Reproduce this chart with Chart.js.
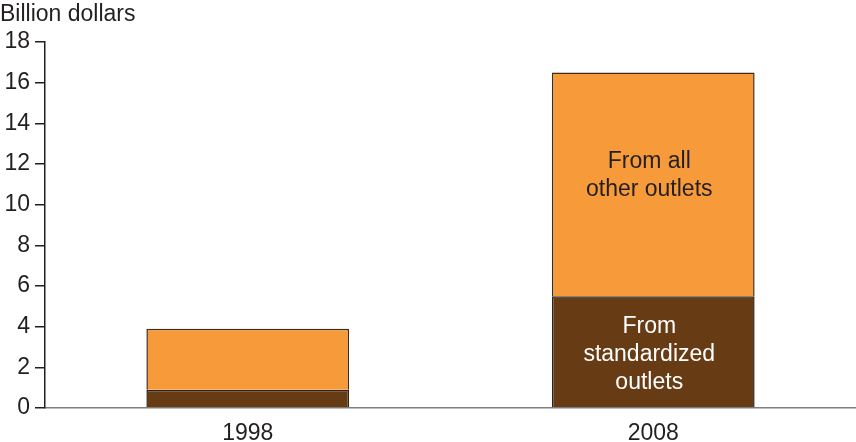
<!DOCTYPE html>
<html>
<head>
<meta charset="utf-8">
<script src="https://cdn.jsdelivr.net/npm/chart.js@4"></script>
<style>
  html, body { margin: 0; padding: 0; background: #fff; }
  #wrap { width: 856px; height: 442px; }
</style>
</head>
<body>
<div id="wrap"><canvas id="chart" width="856" height="442"></canvas></div>
<script>
// Values (billion dollars)
const years = ["1998", "2008"];
const standardized = [0.9, 5.5];
const otherOutlets = [3.0, 11.0];
const yTicks = [0, 2, 4, 6, 8, 10, 12, 14, 16, 18];

const FONT = "'Liberation Sans', Arial, Helvetica, sans-serif";
const INK = "#231f20";
const SIZE = 23;

// text inside the 2008 bar + axis title
const labelsPlugin = {
  id: "barLabels",
  afterDatasetsDraw(chart) {
    const { ctx, scales } = chart;
    const x = scales.x.getPixelForValue(1);
    ctx.save();
    ctx.font = SIZE + "px " + FONT;
    ctx.textAlign = "center";
    ctx.textBaseline = "middle";

    // other outlets label, in orange segment
    const midOther = scales.y.getPixelForValue(standardized[1] + otherOutlets[1] * 0.58);
    ctx.fillStyle = INK;
    ctx.fillText("From all", x - 4, midOther - 5);
    ctx.fillText("other outlets", x - 4, midOther + 23);

    // standardized label, in dark segment
    const midStd = scales.y.getPixelForValue(standardized[1] / 2);
    ctx.fillStyle = "#ffffff";
    ctx.fillText("From", x - 4, midStd - 25);
    ctx.fillText("standardized", x - 4, midStd + 3);
    ctx.fillText("outlets", x - 4, midStd + 31);

    ctx.textAlign = "left";
    ctx.fillStyle = INK;
    ctx.fillText("Billion dollars", 0, 15);
    ctx.restore();
  }
};

new Chart(document.getElementById("chart"), {
  type: "bar",
  data: {
    labels: years,
    datasets: [
      {
        label: "From standardized outlets",
        data: standardized,
        backgroundColor: "#673c14",
        borderColor: "#2e2116",
        borderWidth: 1.5,
      },
      {
        label: "From all other outlets",
        data: otherOutlets,
        backgroundColor: "#f69a3a",
        borderColor: "#3d2b1c",
        borderWidth: 1.5,
      },
    ],
  },
  options: {
    responsive: false,
    animation: false,
    layout: { padding: { top: 42, right: 0, bottom: 0, left: 0 } },
    plugins: { legend: { display: false }, tooltip: { enabled: false } },
    datasets: { bar: { barPercentage: 0.5, categoryPercentage: 1 } },
    scales: {
      x: {
        stacked: true,
        grid: { display: false },
        border: { display: true, color: "#808080", width: 1.5 },
        ticks: { color: INK, font: { family: FONT, size: SIZE }, padding: 4 },
        afterFit(scale) { scale.height = 34; },
      },
      y: {
        stacked: true,
        min: 0,
        max: 18,
        afterBuildTicks(scale) { scale.ticks = yTicks.map((v) => ({ value: v })); },
        grid: {
          drawOnChartArea: false,
          drawTicks: true,
          tickLength: 10,
          color: INK,
          lineWidth: 1.5,
        },
        border: { display: true, color: INK, width: 1.5 },
        ticks: { color: INK, font: { family: FONT, size: SIZE }, padding: 5 },
        afterFit(scale) { scale.width = 45; },
      },
    },
  },
  plugins: [labelsPlugin],
});
</script>
</body>
</html>
